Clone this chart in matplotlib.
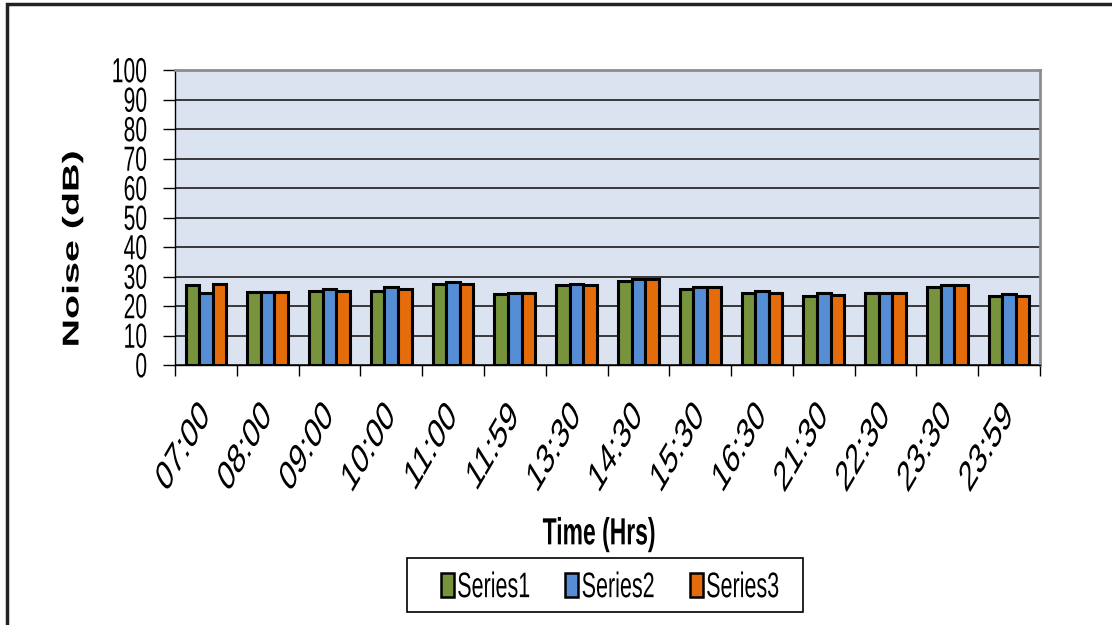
import matplotlib
matplotlib.use("Agg")
import matplotlib.pyplot as plt
import numpy as np
from matplotlib.patches import Rectangle
from matplotlib.patheffects import AbstractPathEffect
from matplotlib.transforms import Affine2D

times = ["07:00", "08:00", "09:00", "10:00", "11:00", "11:59", "13:30",
         "14:30", "15:30", "16:30", "21:30", "22:30", "23:30", "23:59"]
series1 = [27.0, 24.6, 25.2, 25.0, 27.5, 24.0, 27.0, 28.4, 25.8, 24.5, 23.4, 24.5, 26.4, 23.4]
series2 = [24.5, 24.6, 25.9, 26.5, 28.1, 24.5, 27.6, 29.0, 26.4, 25.1, 24.5, 24.5, 27.1, 23.9]
series3 = [27.5, 24.6, 25.2, 25.9, 27.6, 24.5, 27.0, 29.0, 26.4, 24.5, 23.8, 24.5, 27.1, 23.4]
labels = ["Series1", "Series2", "Series3"]
colors = ["#77933C", "#558ED5", "#E46C0A"]

FONT = "Liberation Sans"


class Tall(AbstractPathEffect):
    """Stretch glyphs vertically (on screen) about their centre."""

    def __init__(self, sy=1.65):
        super().__init__()
        self.sy = sy

    def draw_path(self, renderer, gc, tpath, affine, rgbFace=None):
        ext = tpath.get_extents()
        cx, cy = affine.transform([((ext.x0 + ext.x1) / 2, (ext.y0 + ext.y1) / 2)])[0]
        stretch = Affine2D().translate(-cx, -cy).scale(1, self.sy).translate(cx, cy)
        renderer.draw_path(gc, tpath, affine + stretch, rgbFace)


def tall(texts, sy=1.65):
    for t in texts:
        t.set_path_effects([Tall(sy)])


fig = plt.figure(figsize=(11.12, 6.25), dpi=100)
ax = fig.add_axes([175 / 1112, 1 - 365 / 625, 865 / 1112, 295 / 625])
ax.set_facecolor("#DCE3F0")

x = np.arange(len(times))
w = 0.22
for k, (vals, c, lab) in enumerate(zip([series1, series2, series3], colors, labels)):
    ax.bar(x + (k - 1) * w, vals, w, color=c, edgecolor="black",
           linewidth=2.2, label=lab, zorder=3)

ax.set_xlim(-0.5, len(times) - 0.5)
ax.set_ylim(0, 100)
ax.set_yticks(range(0, 101, 10))
ax.set_yticklabels([str(v) for v in range(0, 101, 10)], family=FONT, fontsize=15.2)
ax.yaxis.grid(True, color="#2b2b2b", linewidth=1.3, zorder=1)
ax.set_axisbelow(True)

# category ticks sit between the groups, labels under the group centres
ax.set_xticks(np.arange(-0.5, len(times) + 0.5, 1.0))
ax.set_xticklabels([])
ax.set_xticks(x, minor=True)
ax.set_xticklabels(times, minor=True, rotation=46, ha="right", va="center",
                   rotation_mode="anchor", family=FONT, fontsize=18.5)
ax.tick_params(axis="x", which="minor", length=0, pad=42)
ax.tick_params(axis="x", which="major", length=8, width=1, direction="out")
ax.tick_params(axis="y", length=9, width=1, direction="out", pad=11)
tall(ax.get_yticklabels())
tall(ax.get_xticklabels(minor=True))

for s in ["top", "right"]:
    ax.spines[s].set_color("#8c8c8c")
    ax.spines[s].set_linewidth(2)
for s in ["left", "bottom"]:
    ax.spines[s].set_color("black")
    ax.spines[s].set_linewidth(1)

xl = fig.text(599 / 1112, 1 - 534 / 625, "Time (Hrs)", family=FONT, fontsize=16.5,
              fontweight="bold", ha="center", va="center")
yl = fig.text(72 / 1112, 1 - 249 / 625, "Noise (dB)", family=FONT, fontsize=16.5,
              fontweight="bold", ha="center", va="center", rotation=90)
tall([xl], 1.65)
tall([yl], 1.72)

# legend box drawn separately so it can be wider than its entries
fig.patches.append(Rectangle((407 / 1112, 1 - 612 / 625), 396 / 1112, 54 / 625,
                             transform=fig.transFigure, facecolor="white",
                             edgecolor="black", linewidth=1.2))
leg = fig.legend(loc="center", bbox_to_anchor=(610 / 1112, 1 - 585 / 625),
                 ncol=3, frameon=False, prop={"family": FONT, "size": 15.5},
                 handlelength=0.6, handleheight=1.4, handletextpad=0.15,
                 columnspacing=1.65, borderpad=0, borderaxespad=0)
tall(leg.get_texts())
for h in leg.legend_handles:
    h.set_linewidth(1.8)

# outer chart border (only top and left edges fall inside the image)
fig.patches.append(Rectangle((7 / 1112, -0.1), 1.2, 1.1 - 4 / 625, transform=fig.transFigure,
                             fill=False, edgecolor="#222222", linewidth=2.5))

fig.savefig("out.png", dpi=100)
